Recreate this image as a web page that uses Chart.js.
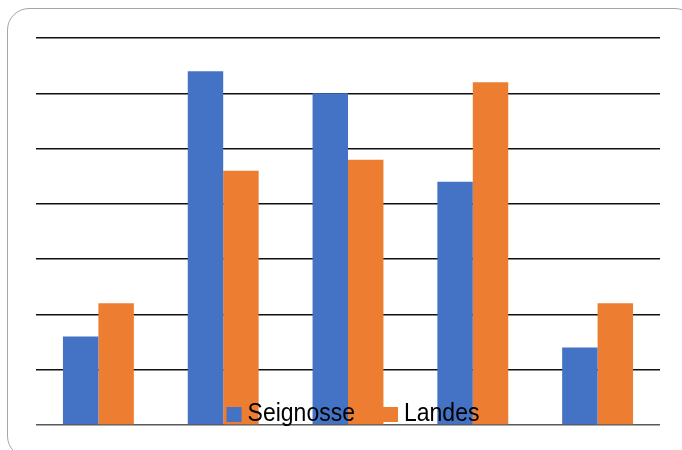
<!DOCTYPE html>
<html>
<head>
<meta charset="utf-8">
<script src="https://cdn.jsdelivr.net/npm/chart.js@4.4.1/dist/chart.umd.min.js"></script>
<style>
  html, body { margin: 0; padding: 0; background: #fff; overflow: hidden; }
  #wrap { position: relative; width: 682px; height: 450px; }
  #frame { position: absolute; left: 7px; top: 8px; width: 690px; height: 450px;
           border: 1px solid #a6a6a6; border-radius: 22px; box-sizing: border-box; }
  canvas { position: absolute; left: 0; top: 0; }
</style>
</head>
<body>
<div id="wrap">
  <div id="frame"></div>
  <canvas id="c" width="682" height="450"></canvas>
</div>
<script>
const categories = ['1', '2', '3', '4', '5'];
const seignosse = [8, 32, 30, 22, 7];
const landes = [11, 23, 24, 31, 11];
const yTicks = [0, 5, 10, 15, 20, 25, 30, 35];

const overlayLegend = {
  id: 'overlayLegend',
  afterDatasetsDraw(chart) {
    const ctx = chart.ctx;
    const area = chart.chartArea;
    const ds = chart.data.datasets;
    ctx.save();
    ctx.font = '23px "Liberation Sans", Arial, sans-serif';
    ctx.textBaseline = 'alphabetic';
    const box = 15, gapText = 6, gapItem = 28, sy = 1.15;
    const widths = ds.map(d => ctx.measureText(d.label).width);
    let total = 0;
    widths.forEach((w, i) => { total += box + gapText + w + (i < ds.length - 1 ? gapItem : 0); });
    let x = (area.left + area.right) / 2 + 5 - total / 2;
    const baseline = area.bottom - 4;
    ds.forEach((d, i) => {
      ctx.fillStyle = d.backgroundColor;
      ctx.fillRect(x, baseline - 14, box, box);
      x += box + gapText;
      ctx.save();
      ctx.translate(x, baseline);
      ctx.scale(1, sy);
      ctx.fillStyle = '#000';
      ctx.fillText(d.label, 0, 0);
      ctx.restore();
      x += widths[i] + gapItem;
    });
    ctx.restore();
  }
};

new Chart(document.getElementById('c'), {
  type: 'bar',
  data: {
    labels: categories,
    datasets: [
      { label: 'Seignosse', data: seignosse, backgroundColor: '#4472C4', borderWidth: 0,
        categoryPercentage: 0.568, barPercentage: 1.0 },
      { label: 'Landes', data: landes, backgroundColor: '#ED7D31', borderWidth: 0,
        categoryPercentage: 0.568, barPercentage: 1.0 }
    ]
  },
  options: {
    responsive: false,
    animation: false,
    layout: { padding: { left: 36, right: 22, top: 38, bottom: 25 } },
    plugins: { legend: { display: false }, tooltip: { enabled: false } },
    scales: {
      x: { display: false, grid: { display: false } },
      y: {
        min: yTicks[0], max: yTicks[yTicks.length - 1],
        afterBuildTicks: s => { s.ticks = yTicks.map(v => ({ value: v })); },
        afterFit: s => { s.width = 0; },
        ticks: { display: false },
        border: { display: false },
        grid: {
          drawTicks: false,
          lineWidth: 1.4,
          color: c => c.tick && c.tick.value === 0 ? '#595959' : '#111'
        }
      }
    }
  },
  plugins: [overlayLegend]
});
</script>
</body>
</html>
